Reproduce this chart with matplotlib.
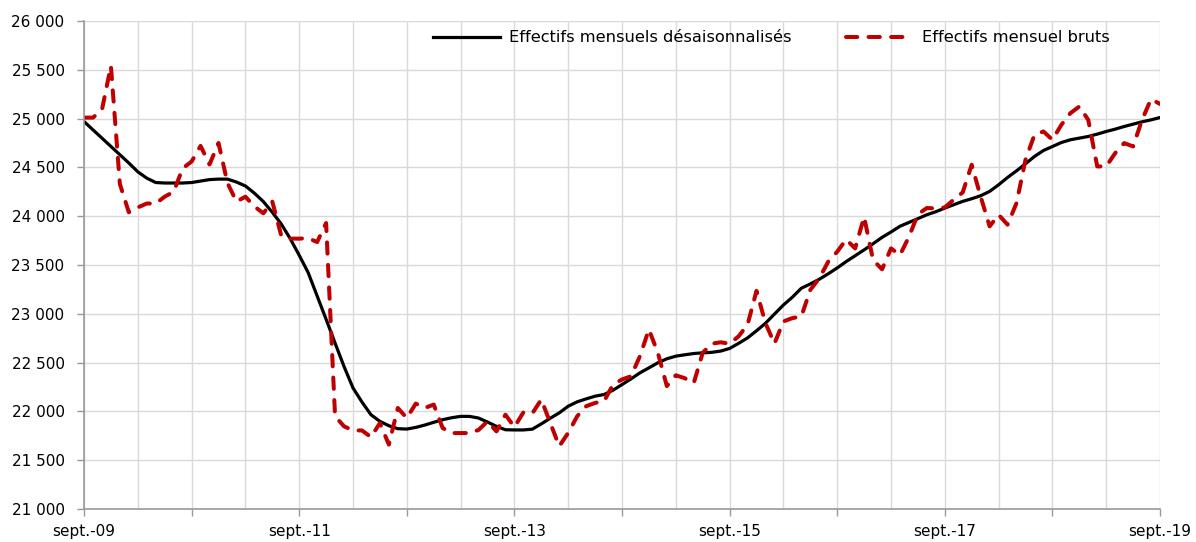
import numpy as np
import matplotlib
matplotlib.use("Agg")
import matplotlib.pyplot as plt
from matplotlib.ticker import MultipleLocator, FuncFormatter

# monthly data, sept. 2009 -> sept. 2019 (121 points)
desaison = [
    24970, 24885, 24800, 24715, 24630, 24545, 24455, 24390, 24345, 24340,
    24340, 24340, 24345, 24360, 24375, 24380, 24380, 24350, 24310, 24236,
    24150, 24040, 23920, 23770, 23600, 23422, 23183, 22944, 22700, 22460,
    22240, 22096, 21966, 21898, 21853, 21823, 21819, 21836, 21860, 21888,
    21915, 21935, 21949, 21949, 21932, 21891, 21847, 21812, 21810, 21810,
    21818, 21872, 21930, 21985, 22053, 22098, 22128, 22156, 22173, 22217,
    22275, 22333, 22395, 22446, 22498, 22539, 22566, 22580, 22593, 22600,
    22605, 22618, 22645, 22697, 22753, 22826, 22903, 22997, 23090, 23170,
    23262, 23306, 23354, 23410, 23470, 23535, 23595, 23655, 23718, 23783,
    23838, 23897, 23936, 23975, 24015, 24046, 24083, 24118, 24152, 24179,
    24210, 24254, 24322, 24397, 24465, 24537, 24612, 24673, 24714, 24755,
    24783, 24800, 24817, 24841, 24868, 24892, 24919, 24943, 24967, 24987,
    25011,
]
bruts = [
    25010, 25010, 25090, 25540, 24330, 24040, 24090, 24130, 24130, 24200,
    24250, 24490, 24560, 24720, 24530, 24750, 24340, 24150, 24200, 24100,
    24030, 24150, 23800, 23770, 23770, 23775, 23735, 23930, 21950, 21847,
    21805, 21805, 21737, 21880, 21660, 22035, 21932, 22080, 22035, 22070,
    21830, 21778, 21778, 21778, 21810, 21898, 21795, 21966, 21840, 21990,
    21980, 22122, 21882, 21643, 21780, 21950, 22053, 22087, 22104, 22275,
    22327, 22360, 22566, 22840, 22600, 22260, 22370, 22340, 22290, 22600,
    22694, 22708, 22694, 22769, 22888, 23235, 22905, 22694, 22922, 22956,
    22973, 23245, 23364, 23534, 23636, 23762, 23670, 23993, 23551, 23456,
    23670, 23602, 23789, 24020, 24084, 24080, 24090, 24170, 24244, 24527,
    24200, 23896, 24015, 23913, 24135, 24578, 24834, 24868, 24783, 24936,
    25055, 25124, 24987, 24510, 24510, 24646, 24749, 24715, 24987, 25200,
    25150,
]
labels_annees = ["sept.-09", "", "sept.-11", "", "sept.-13", "",
                 "sept.-15", "", "sept.-17", "", "sept.-19"]
noms = ["Effectifs mensuels désaisonnalisés", "Effectifs mensuel bruts"]

mois = np.arange(len(desaison))

plt.rcParams['font.family'] = ['DejaVu Sans']
fig = plt.figure(figsize=(11.96, 5.42), dpi=100)
ax = fig.add_axes([84/1196, 1 - 509/542, (1160-84)/1196, (509-21)/542])

ax.plot(mois, desaison, color='black', lw=2.3, label=noms[0], zorder=3)
ax.plot(mois, bruts, color='#C00000', lw=2.9, ls=(0, (2.8, 2.8)),
        dash_capstyle='round', label=noms[1], zorder=3)

ax.set_xlim(0, 120)
ax.set_ylim(21000, 26000)

# x axis: ticks every year, labels every 2 years, grid every 6 months
ax.set_xticks(np.arange(0, 121, 12))
ax.set_xticklabels(labels_annees)
ax.xaxis.set_minor_locator(MultipleLocator(6))
ax.yaxis.set_major_locator(MultipleLocator(500))
ax.yaxis.set_major_formatter(FuncFormatter(lambda v, p: f"{v:,.0f}".replace(",", " ")))

ax.grid(True, which='both', color='#D9D9D9', lw=1.0, zorder=0)
ax.set_axisbelow(True)
ax.tick_params(which='major', length=5, width=1.0, color='#999999',
               labelsize=11)
ax.tick_params(axis='y', pad=9)
ax.tick_params(axis='x', pad=6)
ax.tick_params(which='minor', length=0)

for s in ['top', 'right']:
    ax.spines[s].set_visible(False)
for s in ['left', 'bottom']:
    ax.spines[s].set_color('#999999')
    ax.spines[s].set_linewidth(1.2)
    ax.spines[s].set_zorder(4)

leg = ax.legend(ncol=2, frameon=False, loc='center left',
                bbox_to_anchor=((433-84)/1076, (509-38)/488),
                borderpad=0, borderaxespad=0, handlelength=4.1,
                handletextpad=0.55, columnspacing=3.4, fontsize=11.7)

fig.savefig("out.png", dpi=100)
